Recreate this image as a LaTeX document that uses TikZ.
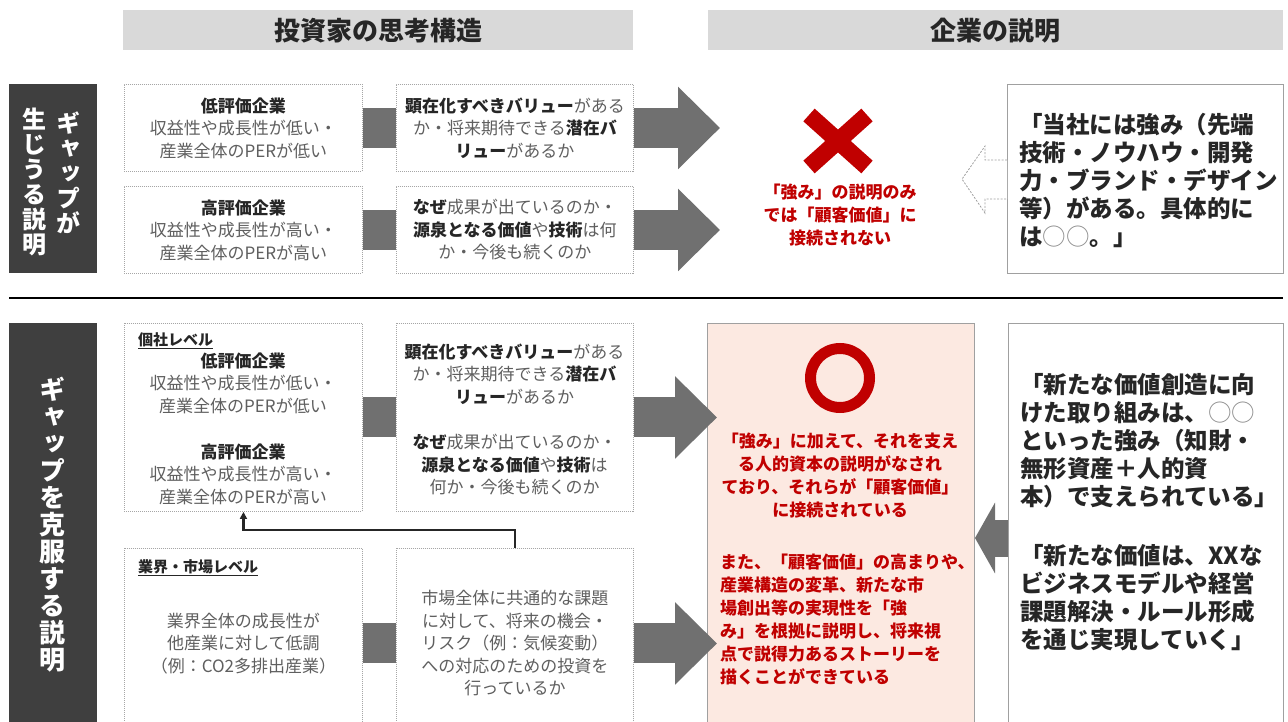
\documentclass[tikz,border=0pt]{standalone}
\usepackage{fontspec}
\setmainfont{Noto Sans CJK JP}
\newfontfamily\vfont[RawFeature=+vert]{Noto Sans CJK JP}
\usetikzlibrary{arrows.meta,calc}
\definecolor{hdrc}{HTML}{D9D9D9}
\definecolor{darkc}{HTML}{3F3F3F}
\definecolor{txtg}{HTML}{5F5F5F}
\definecolor{txtb}{HTML}{262626}
\definecolor{dotc}{HTML}{A6A6A6}
\definecolor{arrc}{HTML}{707070}
\definecolor{redc}{HTML}{C00000}
\definecolor{pinkc}{HTML}{FCE9E1}
\definecolor{bordc}{HTML}{A0A0A0}
\definecolor{ringg}{HTML}{8C8C8C}
\newcommand\bkx[1]{{\bfseries\color{txtb}#1}}
\newcommand\circx[1]{{\mdseries\color{ringg}#1}}
\begin{document}
\begin{tikzpicture}[x=1pt,y=-1pt,
  hdr/.style={fill=hdrc, anchor=north west, inner sep=0pt, text=txtb,
    font=\bfseries\fontsize{26}{30}\selectfont},
  darkbox/.style={fill=darkc, anchor=north west, inner sep=0pt},
  vtext/.style={text=white, align=center, inner sep=0pt},
  dbox/.style={draw=dotc, line width=0.9pt, dash pattern=on 1pt off 1pt,
    fill=white, inner sep=0pt, anchor=north west, align=center, text=txtg,
    font=\fontsize{17}{22.5}\selectfont},
  gtext/.style={align=center, text=txtg, inner sep=0pt,
    font=\fontsize{17}{22.5}\selectfont},
  lvl/.style={anchor=west, inner sep=0pt, text=txtb,
    font=\bfseries\fontsize{15}{18}\selectfont},
  sbox/.style={draw=bordc, line width=1.2pt, fill=white, anchor=north west, inner sep=0pt},
  quote/.style={align=left, anchor=west, inner sep=0pt, text=txtb,
    font=\bfseries\fontsize{23.5}{28}\selectfont},
  redt/.style={text=redc, inner sep=0pt, font=\bfseries\fontsize{17}{23}\selectfont},
  bar/.style={draw=arrc, line width=40pt},
  bigarrow/.style={draw=arrc, line width=40pt, -{Triangle[length=42pt,width=80pt]}},
  leftarrow/.style={draw=arrc, line width=37pt, -{Triangle[length=20pt,width=70pt]}},
  hollow/.style={draw=bordc, line width=0.8pt, dash pattern=on 2pt off 1.5pt, fill=white},
  fb/.style={draw=txtb, line width=2.2pt, -{Triangle[length=7pt,width=7pt]}}
]
\clip (0,0) rectangle (1288,722);
\fill[white] (0,0) rectangle (1288,722);

% headers
\node[hdr, minimum width=510, minimum height=40] (H1) at (123,10) {投資家の思考構造};
\node[hdr, minimum width=575, minimum height=40] (H2) at (708,10) {企業の説明};

% dark side labels
\node[darkbox, minimum width=88, minimum height=189] (G1) at (9,84) {};
\node[vtext, font=\vfont\bfseries\fontsize{24}{25}\selectfont] (G1a) at (68,173) {ギ\\ャ\\ッ\\プ\\が};
\node[vtext, font=\vfont\bfseries\fontsize{24}{25}\selectfont] (G1b) at (35,182) {生\\じ\\う\\る\\説\\明};
\node[darkbox, minimum width=88, minimum height=420] (G2) at (9,323) {};
\node[vtext, font=\vfont\bfseries\fontsize{26}{27}\selectfont] (G2a) at (52,525) {ギ\\ャ\\ッ\\プ\\を\\克\\服\\す\\る\\説\\明};

% upper section boxes
\node[dbox, minimum width=238, minimum height=87] (A1) at (124,84)
  {\bkx{低評価企業}\\収益性や成長性が低い・\\産業全体のPERが低い};
\node[dbox, minimum width=238, minimum height=87] (A2) at (124,186)
  {\bkx{高評価企業}\\収益性や成長性が高い・\\産業全体のPERが高い};
\node[dbox, minimum width=237, minimum height=87] (B1) at (396,84)
  {\bkx{顕在化すべきバリュー}がある\\か・将来期待できる\bkx{潜在バ}\\\bkx{リュー}があるか};
\node[dbox, minimum width=237, minimum height=87] (B2) at (396,186)
  {\bkx{なぜ}成果が出ているのか・\\\bkx{源泉となる価値}や\bkx{技術}は何\\か・今後も続くのか};

\draw[bar] (A1.east) -- (B1.west);
\draw[bar] (A2.east) -- (B2.west);
\coordinate (TX) at (720,0);
\draw[bigarrow] (B1.east) -- (B1.east -| TX);
\draw[bigarrow] (B2.east) -- (B2.east -| TX);

% red cross
\coordinate (XC) at (838,141);
\draw[redc, line width=17pt] ($(XC)+(-29,-26)$) -- ($(XC)+(29,26)$);
\draw[redc, line width=17pt] ($(XC)+(29,-26)$) -- ($(XC)+(-29,26)$);
\node[redt, align=center] (XT) at (840,215) {「強み」の説明のみ\\では「顧客価値」に\\接続されない};

% top right quote
\node[sbox, minimum width=276, minimum height=189] (T) at (1007,84) {};
\node[quote, text width=262] (TQ) at (1019,180)
  {「当社には強み（先端\\技術・ノウハウ・開発\\力・ブランド・デザイン\\等）がある。具体的に\\は\circx{○○}。」};
\draw[hollow] ($(T.west)+(0,-19)$) -- ($(T.west)+(-22,-19)$) -- ($(T.west)+(-22,-33)$)
  -- ($(T.west)+(-45,0)$) -- ($(T.west)+(-22,34)$) -- ($(T.west)+(-22,20)$) -- ($(T.west)+(0,20)$);

% separator
\coordinate (RL) at (9,298);
\coordinate (RR) at (1283,298);
\draw[line width=2pt, black] (RL) -- (RR);

% lower section boxes
\node[dbox, minimum width=238, minimum height=188] (C1) at (124,323) {};
\node[lvl] (C1l) at (138,341) {\underline{個社レベル}};
\node[gtext] (C1a) at (243,383) {\bkx{低評価企業}\\収益性や成長性が低い・\\産業全体のPERが低い};
\node[gtext] (C1b) at (243,474) {\bkx{高評価企業}\\収益性や成長性が高い・\\産業全体のPERが高い};

\node[dbox, minimum width=237, minimum height=188] (D1) at (396,323) {};
\node[gtext] (D1a) at (514.5,374) {\bkx{顕在化すべきバリュー}がある\\か・将来期待できる\bkx{潜在バ}\\\bkx{リュー}があるか};
\node[gtext] (D1b) at (514.5,465) {\bkx{なぜ}成果が出ているのか・\\\bkx{源泉となる価値}や\bkx{技術}は\\何か・今後も続くのか};

\node[dbox, minimum width=238, minimum height=190] (C2) at (124,548)
  {業界全体の成長性が\\他産業に対して低調\\（例：CO2多排出産業）};
\node[lvl] (C2l) at (138,568) {\underline{業界・市場レベル}};
\node[dbox, minimum width=237, minimum height=190] (D2) at (396,548)
  {市場全体に共通的な課題\\に対して、将来の機会・\\リスク（例：気候変動）\\への対応のための投資を\\行っているか};

\draw[bar] (C1.east) -- (D1.west);
\draw[bar] (C2.east) -- (D2.west);
\draw[fb] (D2.north) -- ++(0,-18) -| (C1.south);

% pink result box
\node[draw=bordc, line width=1pt, fill=pinkc, anchor=north west, inner sep=0pt,
  minimum width=267, minimum height=420] (P) at (707,323) {};
\coordinate (TX2) at (717,0);
\draw[bigarrow] (D1.east) -- (D1.east -| TX2);
\draw[bigarrow] (D2.east) -- (D2.east -| TX2);
\draw[redc, line width=11pt] (840,378) circle (29.5);
\node[redt, align=center] (P1) at (840,475.5)
  {「強み」に加えて、それを支え\\る人的資本の説明がなされ\\ており、それらが「顧客価値」\\に接続されている};
\node[redt, align=left, anchor=west] (P2) at (720,619.5)
  {また、「顧客価値」の高まりや、\\産業構造の変革、新たな市\\場創出等の実現性を「強\\み」を根拠に説明し、将来視\\点で説得力あるストーリーを\\描くことができている};

% bottom right quote
\node[sbox, minimum width=275, minimum height=420] (R) at (1008,323) {};
\node[quote] (R1) at (1020,441)
  {「新たな価値創造に向\\けた取り組みは、\circx{○○}\\といった強み（知財・\\無形資産＋人的資\\本）で支えられている」};
\node[quote] (R2) at (1020,598)
  {「新たな価値は、XXな\\ビジネスモデルや経営\\課題解決・ルール形成\\を通じ実現していく」};
\coordinate (YA) at (0,538);
\draw[leftarrow] (R.west |- YA) -- (P.east |- YA);
\end{tikzpicture}
\end{document}
